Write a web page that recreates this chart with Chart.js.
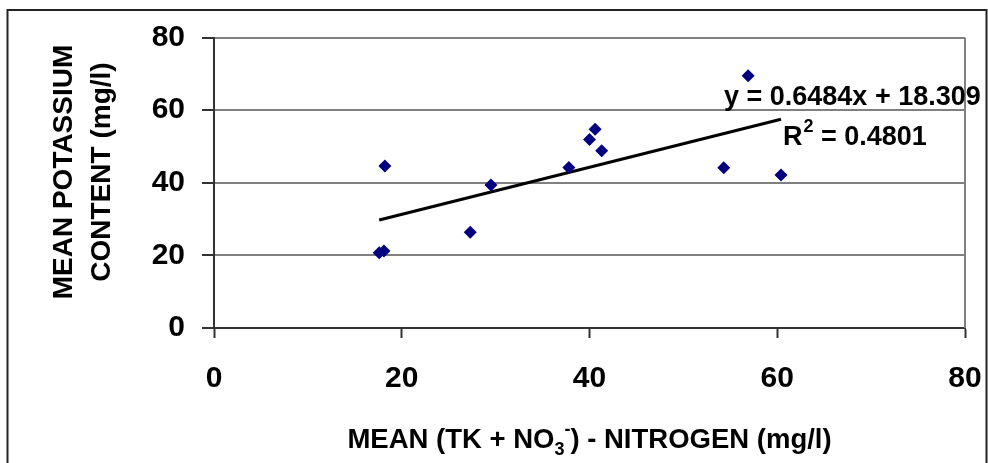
<!DOCTYPE html>
<html>
<head>
<meta charset="utf-8">
<script src="https://cdn.jsdelivr.net/npm/chart.js@4.4.4/dist/chart.umd.min.js"></script>
<style>
  html, body { margin: 0; padding: 0; background: #fff; }
  canvas { display: block; }
</style>
</head>
<body>
<canvas id="chart" width="988" height="463"></canvas>
<script>
// values
const nitrogen  = [17.6, 18.1, 18.2, 27.3, 29.5, 37.8, 40.0, 40.6, 41.3, 54.3, 56.9, 60.4];
const potassium = [20.7, 21.2, 44.6, 26.4, 39.4, 44.2, 51.9, 54.7, 48.8, 44.1, 69.5, 42.1];
const axisTicks = [0, 20, 40, 60, 80];
const slope = 0.6484;
const intercept = 18.309;
const rSquared = '0.4801';

const FONT = '"Liberation Sans", Arial, sans-serif';

const points = nitrogen.map((x, i) => ({ x, y: potassium[i] }));
const xMin = Math.min(...nitrogen), xMax = Math.max(...nitrogen);
const trend = [xMin, xMax].map(x => ({ x, y: slope * x + intercept }));

// frame, axis titles and the trendline label
const decor = {
  id: 'decor',
  beforeDraw(chart) {
    const ctx = chart.ctx;
    ctx.save();
    ctx.fillStyle = '#fff';
    ctx.fillRect(0, 0, chart.width, chart.height);
    ctx.restore();
  },
  afterDraw(chart) {
    const ctx = chart.ctx;
    const a = chart.chartArea;
    ctx.save();
    // outer frame
    ctx.strokeStyle = '#222';
    ctx.lineWidth = 2;
    ctx.beginPath();
    ctx.moveTo(7.5, chart.height); ctx.lineTo(7.5, 10); ctx.lineTo(986.5, 10); ctx.lineTo(986.5, chart.height);
    ctx.stroke();
    // right edge of plot area
    ctx.strokeStyle = '#808080';
    ctx.lineWidth = 2;
    ctx.beginPath();
    ctx.moveTo(a.right, a.top); ctx.lineTo(a.right, a.bottom);
    ctx.stroke();

    ctx.fillStyle = '#000';
    ctx.textBaseline = 'alphabetic';

    // y axis title, two lines rotated
    const yTitle = 'bold 28px ' + FONT;
    ctx.save();
    ctx.textAlign = 'center';
    ctx.font = yTitle;
    ctx.translate(72, 172); ctx.rotate(-Math.PI / 2);
    ctx.fillText('MEAN POTASSIUM', 0, 0);
    ctx.restore();
    ctx.save();
    ctx.textAlign = 'center';
    ctx.font = yTitle;
    ctx.translate(110, 172); ctx.rotate(-Math.PI / 2);
    ctx.fillText('CONTENT (mg/l)', 0, 0);
    ctx.restore();

    // x axis title with NO3- sub/superscript
    const big = 'bold 27.5px ' + FONT, small = 'bold 18px ' + FONT;
    const parts = [
      ['MEAN (TK + NO', big, 0],
      ['3', small, 7],
      ['-', small, -13],
      [') - NITROGEN (mg/l)', big, 0]
    ];
    ctx.textAlign = 'left';
    let w = 0;
    parts.forEach(p => { ctx.font = p[1]; w += ctx.measureText(p[0]).width; });
    let x = (a.left + a.right) / 2 - w / 2;
    const base = 448;
    parts.forEach(p => {
      ctx.font = p[1];
      ctx.fillText(p[0], x, base + p[2]);
      x += ctx.measureText(p[0]).width;
    });

    // trendline equation
    ctx.font = 'bold 27px ' + FONT;
    ctx.fillText('y = ' + slope + 'x + ' + intercept, 724, 105);
    let rx = 783;
    ctx.fillText('R', rx, 145);
    rx += ctx.measureText('R').width + 1;
    ctx.font = 'bold 18px ' + FONT;
    ctx.fillText('2', rx, 132);
    rx += ctx.measureText('2').width;
    ctx.font = 'bold 27px ' + FONT;
    ctx.fillText(' = ' + rSquared, rx, 145);
    ctx.restore();
  }
};

const noPad = s => { s.paddingLeft = 0; s.paddingRight = 0; s.paddingTop = 0; s.paddingBottom = 0; };

new Chart(document.getElementById('chart'), {
  type: 'scatter',
  data: {
    datasets: [
      {
        label: 'data',
        data: points,
        pointStyle: 'rectRot',
        pointRadius: 6.5,
        backgroundColor: '#000080',
        borderColor: '#000080',
        borderWidth: 0
      },
      {
        type: 'line',
        label: 'trend',
        data: trend,
        borderColor: '#000',
        borderWidth: 3,
        pointRadius: 0,
        fill: false
      }
    ]
  },
  options: {
    responsive: false,
    animation: false,
    devicePixelRatio: 1,
    layout: { padding: { top: 37.5, right: 23, left: 0, bottom: 0 } },
    plugins: { legend: { display: false }, tooltip: { enabled: false } },
    scales: {
      x: {
        type: 'linear', min: 0, max: 80,
        afterBuildTicks: s => { s.ticks = axisTicks.map(v => ({ value: v })); },
        afterFit: s => { s.height = 135; noPad(s); },
        ticks: { color: '#000', font: { family: FONT, size: 30, weight: 'bold' }, padding: 23 },
        grid: { drawOnChartArea: false, tickLength: 10, tickColor: '#333', tickWidth: 2 },
        border: { color: '#333', width: 2 }
      },
      y: {
        min: 0, max: 80,
        afterBuildTicks: s => { s.ticks = axisTicks.map(v => ({ value: v })); },
        afterFit: s => { s.width = 214; noPad(s); },
        ticks: { color: '#000', font: { family: FONT, size: 30, weight: 'bold' }, padding: 17 },
        grid: { color: '#808080', lineWidth: 2, tickLength: 12, tickColor: '#333', tickWidth: 2 },
        border: { color: '#333', width: 2 }
      }
    }
  },
  plugins: [decor]
});
</script>
</body>
</html>
